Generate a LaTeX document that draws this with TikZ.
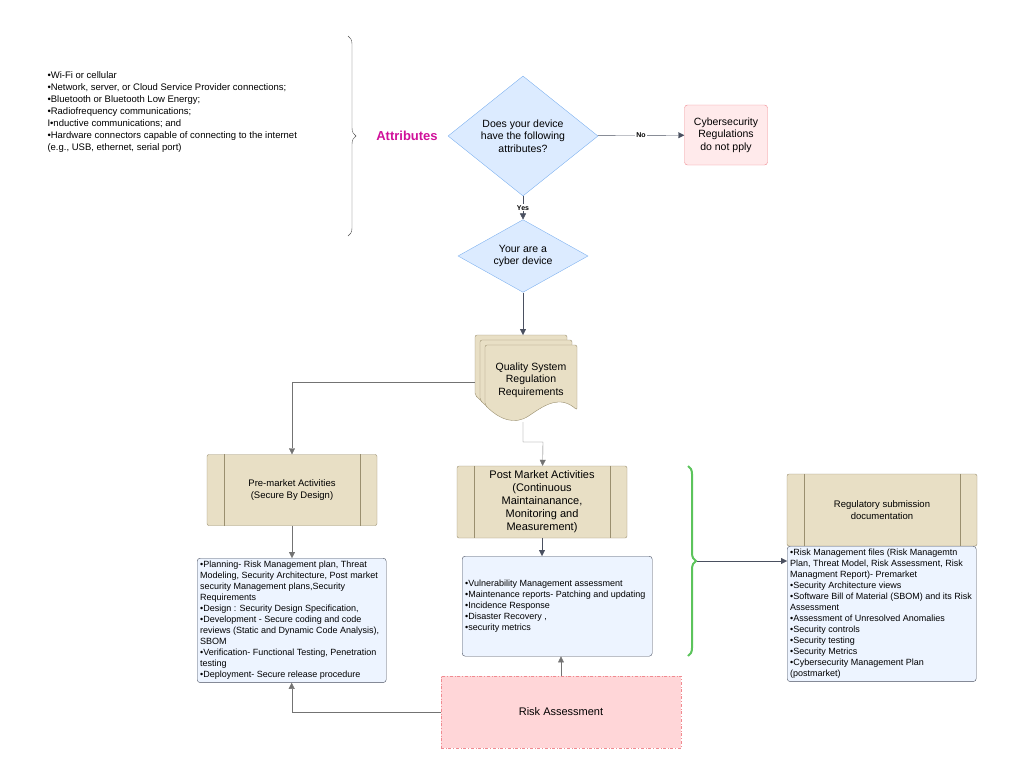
\documentclass[tikz,border=0pt]{standalone}
\usepackage{fontspec}
\setmainfont{Liberation Sans}
\usetikzlibrary{positioning,shapes.geometric,decorations.pathreplacing,arrows.meta}
\definecolor{tanfill}{HTML}{E8DFC5}
\definecolor{tanline}{HTML}{9A8F6F}
\definecolor{listfill}{HTML}{EDF4FF}
\definecolor{listline}{HTML}{4A5060}
\definecolor{decfill}{HTML}{DCEBFF}
\definecolor{decline}{HTML}{7FB2F0}
\definecolor{pinkfill}{HTML}{FFD6D8}
\definecolor{pinkline}{HTML}{F08A90}
\definecolor{attrpink}{HTML}{D0119A}
\definecolor{bracegreen}{HTML}{5CC45C}
\tikzset{
  every node/.style={font=\fontsize{9.5}{11.5}\selectfont},
  flow/.style={draw=listline, -{Triangle[length=6pt,width=6pt]}},
  thin flow/.style={draw=gray!90!black, -{Triangle[length=6pt,width=6pt]}},
  choice/.style={diamond, aspect=1.25, draw=decline, fill=decfill, align=center, inner sep=1pt, font=\fontsize{10.5}{12.5}\selectfont},
  stage/.style={draw=tanline, fill=tanfill, rounded corners=2pt, align=center},
  items/.style={draw=listline, fill=listfill, rounded corners=3pt, align=flush left, inner sep=3pt, anchor=north west,
    font=\fontsize{9}{11}\selectfont}
}
\newcommand{\stagebars}[1]{%
  \draw[tanline] ([xshift=17pt]#1.north west) -- ([xshift=17pt]#1.south west);
  \draw[tanline] ([xshift=-17pt]#1.north east) -- ([xshift=-17pt]#1.south east);}
\begin{document}
\begin{tikzpicture}[x=1pt,y=-1pt]
\useasboundingbox (0,0) rectangle (1024,782);

% attributes
\node[align=left, anchor=west, font=\fontsize{9.5}{12}\selectfont] (attrs) at (44,112) {%
•Wi-Fi or cellular\\
•Network, server, or Cloud Service Provider connections;\\
•Bluetooth or Bluetooth Low Energy;\\
•Radiofrequency communications;\\
I•nductive communications; and\\
•Hardware connectors capable of connecting to the internet\\
(e.g., USB, ethernet, serial port)};
\draw[decorate, decoration={brace, amplitude=8pt}, gray!60!black] (348,36) -- (348,236);
\node[text=attrpink, font=\fontsize{13}{15}\selectfont\bfseries] (attrlabel) at (407,136) {Attributes};

% decisions
\node[choice, minimum width=150pt, minimum height=120pt] (q) at (523,136) {Does your device\\have the following\\attributes?};
\node[draw=pinkline, fill=pinkfill!50, rounded corners=3pt, align=center, minimum width=83pt, minimum height=60pt, font=\fontsize{10.5}{12.5}\selectfont] (nocyber) at (726,135) {Cybersecurity\\Regulations\\do not pply};
\draw[flow] (q) -- node[fill=white, font=\fontsize{7}{8}\selectfont\bfseries, inner sep=1pt] {No} (nocyber);
\node[choice, minimum width=130pt, minimum height=60pt] (cyber) at (523,256) {Your are a\\cyber device};
\draw[flow] (q) -- node[fill=white, font=\fontsize{7}{8}\selectfont\bfseries, inner sep=1pt] {Yes} (cyber);

% quality system documents
\foreach \d in {0,5,10}
  \draw[tanline, fill=tanfill, rounded corners=2pt] (475+\d,335+\d) -- (567+\d,335+\d) -- (567+\d,400+\d)
    .. controls (550+\d,385+\d) and (535+\d,395+\d) .. (520+\d,405+\d)
    .. controls (505+\d,415+\d) and (490+\d,410+\d) .. (475+\d,395+\d) -- cycle;
\node[align=center, font=\fontsize{10.5}{12.5}\selectfont] (qsr) at (531,380) {Quality System\\Regulation\\Requirements};
\coordinate (qsrtop) at (523,335);
\coordinate (qsrleft) at (475,382);
\coordinate (qsrbot) at (523,422);
\draw[flow] (cyber) -- (qsrtop);

% activities
\node[stage, minimum width=170pt, minimum height=71pt] (pre) at (292,490) {Pre-market Activities\\(Secure By Design)};
\stagebars{pre}
\node[stage, minimum width=170pt, minimum height=72pt, font=\fontsize{11}{13}\selectfont] (post) at (542,502) {Post Market Activities\\(Continuous\\Maintainanance,\\Monitoring and\\Measurement)};
\stagebars{post}
\draw[thin flow] (qsrleft) -| (pre);
\draw[thin flow] (qsrbot) |- (543,442) -- (post);

\node[items, text width=183pt] (prelist) at (197,558) {%
•Planning- Risk Management plan, Threat Modeling, Security Architecture, Post market security Management plans,Security Requirements\\
•Design : Security Design Specification,\\
•Development - Secure coding and code reviews (Static and Dynamic Code Analysis), SBOM\\
•Verification- Functional Testing, Penetration testing\\
•Deployment- Secure release procedure};
\draw[thin flow] (pre) -- (pre |- prelist.north);
\node[items, text width=184pt, minimum height=100pt, anchor=north west] (postlist) at (462,556) {%
•Vulnerability Management assessment\\
•Maintenance reports- Patching and updating\\
•Incidence Response\\
•Disaster Recovery ,\\
•security metrics};
\draw[flow] (post) -- (post |- postlist.north);

% risk assessment
\node[draw=pinkline, fill=pinkfill, dash dot, minimum width=240pt, minimum height=72pt, font=\fontsize{11}{13}\selectfont] (risk) at (561,712) {Risk Assessment};
\draw[thin flow] (risk.north) -- (risk.north |- postlist.south);
\draw[thin flow] (risk.west) -| (prelist.south);

% submission
\draw[decorate, decoration={brace, amplitude=8pt}, line width=2pt, bracegreen] (688,466) -- (688,656);
\coordinate (bracetip) at (697,561);
\node[stage, minimum width=190pt, minimum height=72pt] (sub) at (882,510) {Regulatory submission\\documentation};
\stagebars{sub}
\node[items, text width=183pt] (sublist) at (787,546) {%
•Risk Management files (Risk Managemtn Plan, Threat Model, Risk Assessment, Risk Managment Report)- Premarket\\
•Security Architecture views\\
•Software Bill of Material (SBOM) and its Risk Assessment\\
•Assessment of Unresolved Anomalies\\
•Security controls\\
•Security testing\\
•Security Metrics\\
•Cybersecurity Management Plan (postmarket)};
\draw[flow] (bracetip) -- (bracetip -| sublist.west);
\end{tikzpicture}
\end{document}
